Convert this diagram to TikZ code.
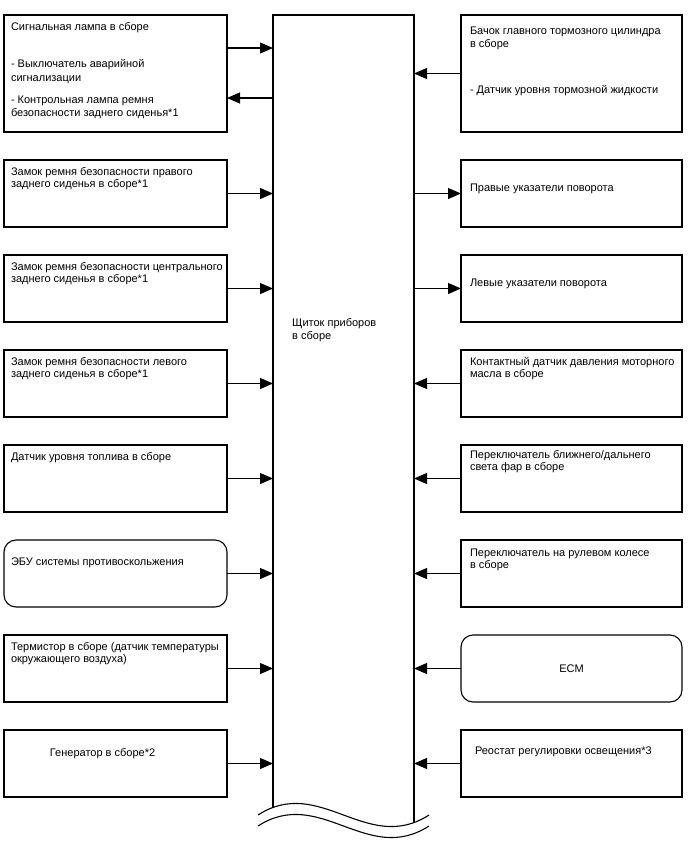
\documentclass[tikz,border=0pt]{standalone}
\usepackage{fontspec}
\setmainfont{Liberation Sans}
\usetikzlibrary{arrows.meta,positioning,calc}
\tikzset{
    unit/.style={rectangle, draw, line width=1.1pt, inner sep=0pt, outer sep=0pt, minimum width=223pt, minimum height=67pt, font=\fontsize{11}{12.2}\selectfont},
    runit/.style={unit, minimum width=221pt},
    ecu/.style={unit, rounded corners=12pt},
    recu/.style={runit, rounded corners=12pt},
    arrow/.style={line width=1.1pt, -{Triangle[length=13pt,width=11pt]}},
    body/.style={line width=1.1pt}
}
\newcommand{\boxtext}[4][67pt]{\makebox[#2][l]{\parbox[c][#1][t]{260pt}{\raggedright\vspace*{#3}#4}}}

\begin{document}
\begin{tikzpicture}[x=1pt, y=-1pt]
        \useasboundingbox (0,0) rectangle (688,852);
        % left column
        \node (l1) [unit, minimum height=117pt, anchor=north west] at (4,15) {\boxtext[117pt]{209pt}{7.4pt}{Сигнальная лампа в сборе\\[24.4pt]- Выключатель аварийной\\[1.8pt]сигнализации\\[9.8pt]- Контрольная лампа ремня\\[1.2pt]безопасности заднего сиденья*1}};
        \node (l2) [unit, below=28pt of l1] {\boxtext{209pt}{7.6pt}{Замок ремня безопасности правого\\заднего сиденья в сборе*1}};
        \node (l3) [unit, below=28pt of l2] {\boxtext{209pt}{7.4pt}{Замок ремня безопасности центрального\\заднего сиденья в сборе*1}};
        \node (l4) [unit, below=28pt of l3] {\boxtext{209pt}{7.4pt}{Замок ремня безопасности левого\\заднего сиденья в сборе*1}};
        \node (l5) [unit, below=28pt of l4] {\boxtext{209pt}{7.4pt}{Датчик уровня топлива в сборе}};
        \node (l6) [ecu, below=28pt of l5] {\boxtext{209pt}{18.3pt}{ЭБУ системы противоскольжения}};
        \node (l7) [unit, below=28pt of l6] {\boxtext{209pt}{7.4pt}{Термистор в сборе (датчик температуры\\окружающего воздуха)}};
        \node (l8) [unit, below=28pt of l7] {\boxtext{209pt}{18.3pt}{\hspace*{39pt}Генератор в сборе*2}};

        % right column
        \node (r1) [runit, minimum height=117pt, right=234pt of l1] {\boxtext[117pt]{203pt}{12.4pt}{Бачок главного тормозного цилиндра\\в сборе\\[33.8pt]- Датчик уровня тормозной жидкости}};
        \node (r2) [runit, right=234pt of l2] {\boxtext{203pt}{23.6pt}{Правые указатели поворота}};
        \node (r3) [runit, right=234pt of l3] {\boxtext{203pt}{23.6pt}{Левые указатели поворота}};
        \node (r4) [runit, right=234pt of l4] {\boxtext{203pt}{7.6pt}{Контактный датчик давления моторного\\масла в сборе}};
        \node (r5) [runit, right=234pt of l5] {\boxtext{203pt}{5.6pt}{Переключатель ближнего/дальнего\\света фар в сборе}};
        \node (r6) [runit, right=234pt of l6] {\boxtext{203pt}{8.6pt}{Переключатель на рулевом колесе\\в сборе}};
        \node (r7) [recu, right=234pt of l7] {ECM};
        \node (r8) [runit, right=234pt of l8] {\boxtext{203pt}{16.6pt}{\hspace*{5pt}Реостат регулировки освещения*3}};

        % instrument cluster
        \coordinate (ipl) at (273,15);
        \coordinate (ipr) at (414,15);
        \node (ip) [anchor=north west, align=left, inner sep=0pt, font=\fontsize{11}{12.6}\selectfont] at (292,318.5) {Щиток приборов\\в сборе};
        \draw [body] (273,807) -- (ipl) -- (ipr) -- (414,823);
        \draw [body] (258,815) .. controls (320,775) and (367,855) .. (429,815);
        \draw [body] (258,826) .. controls (320,786) and (367,866) .. (429,826);

        \coordinate (l1a) at ($(l1.east)+(0,-25.5)$);
        \coordinate (l1b) at ($(l1.east)+(0,24.5)$);
        \draw [arrow] (l1a) -- (l1a -| ipl);
        \draw [arrow] (l1b -| ipl) -- (l1b);
        \draw [arrow] (l2.east) -- (l2.east -| ipl);
        \draw [arrow] (l3.east) -- (l3.east -| ipl);
        \draw [arrow] (l4.east) -- (l4.east -| ipl);
        \draw [arrow] (l5.east) -- (l5.east -| ipl);
        \draw [arrow] (l6.east) -- (l6.east -| ipl);
        \draw [arrow] (l7.east) -- (l7.east -| ipl);
        \draw [arrow] (l8.east) -- (l8.east -| ipl);

        \draw [arrow] (r1.west) -- (r1.west -| ipr);
        \draw [arrow] (r2.west -| ipr) -- (r2.west);
        \draw [arrow] (r3.west -| ipr) -- (r3.west);
        \draw [arrow] (r4.west) -- (r4.west -| ipr);
        \draw [arrow] (r5.west) -- (r5.west -| ipr);
        \draw [arrow] (r6.west) -- (r6.west -| ipr);
        \draw [arrow] (r7.west) -- (r7.west -| ipr);
        \draw [arrow] (r8.west) -- (r8.west -| ipr);
\end{tikzpicture}
\end{document}
